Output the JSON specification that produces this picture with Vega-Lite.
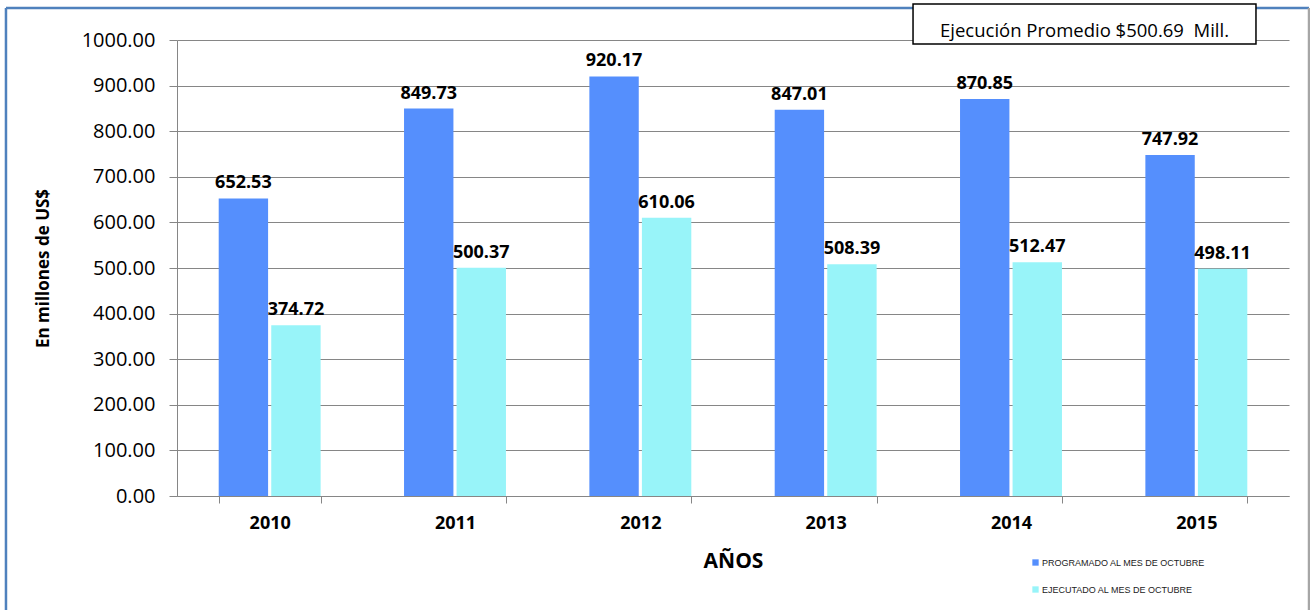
{
  "$schema": "https://vega.github.io/schema/vega-lite/v6.json",
  "width": 1112,
  "height": 456,
  "autosize": {"type": "none"},
  "padding": {"left": 177, "top": 40, "right": 21, "bottom": 114},
  "background": "white",
  "config": {
    "view": {"stroke": null},
    "font": "Open Sans"
  },
  "datasets": {
    "bars": [
      {"anio": "2010", "serie": "PROGRAMADO AL MES DE OCTUBRE", "valor": 652.53},
      {"anio": "2010", "serie": "EJECUTADO AL MES DE OCTUBRE", "valor": 374.72},
      {"anio": "2011", "serie": "PROGRAMADO AL MES DE OCTUBRE", "valor": 849.73},
      {"anio": "2011", "serie": "EJECUTADO AL MES DE OCTUBRE", "valor": 500.37},
      {"anio": "2012", "serie": "PROGRAMADO AL MES DE OCTUBRE", "valor": 920.17},
      {"anio": "2012", "serie": "EJECUTADO AL MES DE OCTUBRE", "valor": 610.06},
      {"anio": "2013", "serie": "PROGRAMADO AL MES DE OCTUBRE", "valor": 847.01},
      {"anio": "2013", "serie": "EJECUTADO AL MES DE OCTUBRE", "valor": 508.39},
      {"anio": "2014", "serie": "PROGRAMADO AL MES DE OCTUBRE", "valor": 870.85},
      {"anio": "2014", "serie": "EJECUTADO AL MES DE OCTUBRE", "valor": 512.47},
      {"anio": "2015", "serie": "PROGRAMADO AL MES DE OCTUBRE", "valor": 747.92},
      {"anio": "2015", "serie": "EJECUTADO AL MES DE OCTUBRE", "valor": 498.11}
    ],
    "caja": [
      {"x1": 0.6619, "x2": 0.9703, "y1": 1078.9, "y2": 991.2, "xm": 0.8161, "ym": 1019.7, "texto": "Ejecución Promedio $500.69\u00a0 Mill."}
    ],
    "borde": [
      {"x1": -0.1538, "x2": -0.1538, "y1": 1070.2, "y2": -260, "c": "#4f81bd"},
      {"x1": -0.1538, "x2": 1.018, "y1": 1070.2, "y2": 1070.2, "c": "#4f81bd"},
      {"x1": 1.018, "x2": 1.018, "y1": 1070.2, "y2": -260, "c": "#a6a6a6"}
    ]
  },
  "resolve": {"scale": {"x": "independent"}},
  "layer": [
    {
      "data": {"name": "bars"},
      "layer": [
        {
          "mark": {"type": "bar"},
          "encoding": {
            "x": {
              "field": "anio", "type": "nominal",
              "scale": {"paddingInner": 0.45, "paddingOuter": 0.225},
              "axis": {
                "title": "AÑOS", "titleFontSize": 21, "titleFontWeight": "bold", "titleColor": "black",
                "titlePadding": 18,
                "labelAngle": 0, "labelFontSize": 18, "labelFontWeight": "bold", "labelColor": "black",
                "labelPadding": 11,
                "tickBand": "extent", "tickSize": 7, "tickColor": "#868686", "domainColor": "#868686",
                "grid": false
              }
            },
            "xOffset": {
              "field": "serie", "type": "nominal",
              "sort": ["PROGRAMADO AL MES DE OCTUBRE", "EJECUTADO AL MES DE OCTUBRE"],
              "scale": {"paddingInner": 0.06, "paddingOuter": 0}
            },
            "y": {
              "field": "valor", "type": "quantitative",
              "scale": {"domain": [0, 1000], "nice": false},
              "axis": {
                "title": "En millones de US$", "titleFontSize": 17, "titleFontWeight": "bold", "titleColor": "black",
                "titlePadding": 29,
                "values": [0, 100, 200, 300, 400, 500, 600, 700, 800, 900, 1000],
                "format": ".2f", "labelFontSize": 20, "labelColor": "black", "labelPadding": 14,
                "tickSize": 8, "tickColor": "#868686", "domainColor": "#868686",
                "grid": true, "gridColor": "#868686"
              }
            },
            "color": {
              "field": "serie", "type": "nominal",
              "sort": ["PROGRAMADO AL MES DE OCTUBRE", "EJECUTADO AL MES DE OCTUBRE"],
              "scale": {"range": ["#558ffd", "#98f4f9"]},
              "legend": {
                "title": null, "orient": "none", "legendX": 854, "legendY": 518,
                "symbolType": "square", "symbolSize": 40, "symbolStrokeWidth": 0,
                "labelFontSize": 9, "labelFont": "Liberation Sans", "labelColor": "#222",
                "labelLimit": 400,
                "rowPadding": 17, "labelOffset": 2
              }
            }
          }
        },
        {
          "mark": {"type": "text", "baseline": "bottom", "dy": -6, "fontSize": 18, "fontWeight": "bold", "color": "black"},
          "encoding": {
            "x": {"field": "anio", "type": "nominal"},
            "xOffset": {
              "field": "serie", "type": "nominal",
              "sort": ["PROGRAMADO AL MES DE OCTUBRE", "EJECUTADO AL MES DE OCTUBRE"]
            },
            "y": {"field": "valor", "type": "quantitative"},
            "text": {"field": "valor", "type": "quantitative", "format": ".2f"}
          }
        }
      ]
    },
    {
      "data": {"name": "borde"},
      "mark": {"type": "rule", "strokeWidth": 2.5, "clip": false},
      "encoding": {
        "x": {"field": "x1", "type": "quantitative", "scale": {"domain": [0, 1], "nice": false, "zero": false}, "axis": null},
        "x2": {"field": "x2"},
        "y": {"field": "y1", "type": "quantitative"},
        "y2": {"field": "y2"},
        "color": {"field": "c", "type": "nominal", "scale": null, "legend": null}
      }
    },
    {
      "data": {"name": "caja"},
      "layer": [
        {
          "mark": {"type": "rect", "fill": "white", "stroke": "black", "strokeWidth": 1.5, "clip": false},
          "encoding": {
            "x": {"field": "x1", "type": "quantitative", "scale": {"domain": [0, 1], "nice": false, "zero": false}, "axis": null},
            "x2": {"field": "x2"},
            "y": {"field": "y1", "type": "quantitative"},
            "y2": {"field": "y2"}
          }
        },
        {
          "mark": {"type": "text", "fontSize": 18.5, "color": "black", "baseline": "middle", "align": "center", "clip": false},
          "encoding": {
            "x": {"field": "xm", "type": "quantitative"},
            "y": {"field": "ym", "type": "quantitative"},
            "text": {"field": "texto"}
          }
        }
      ]
    }
  ]
}
